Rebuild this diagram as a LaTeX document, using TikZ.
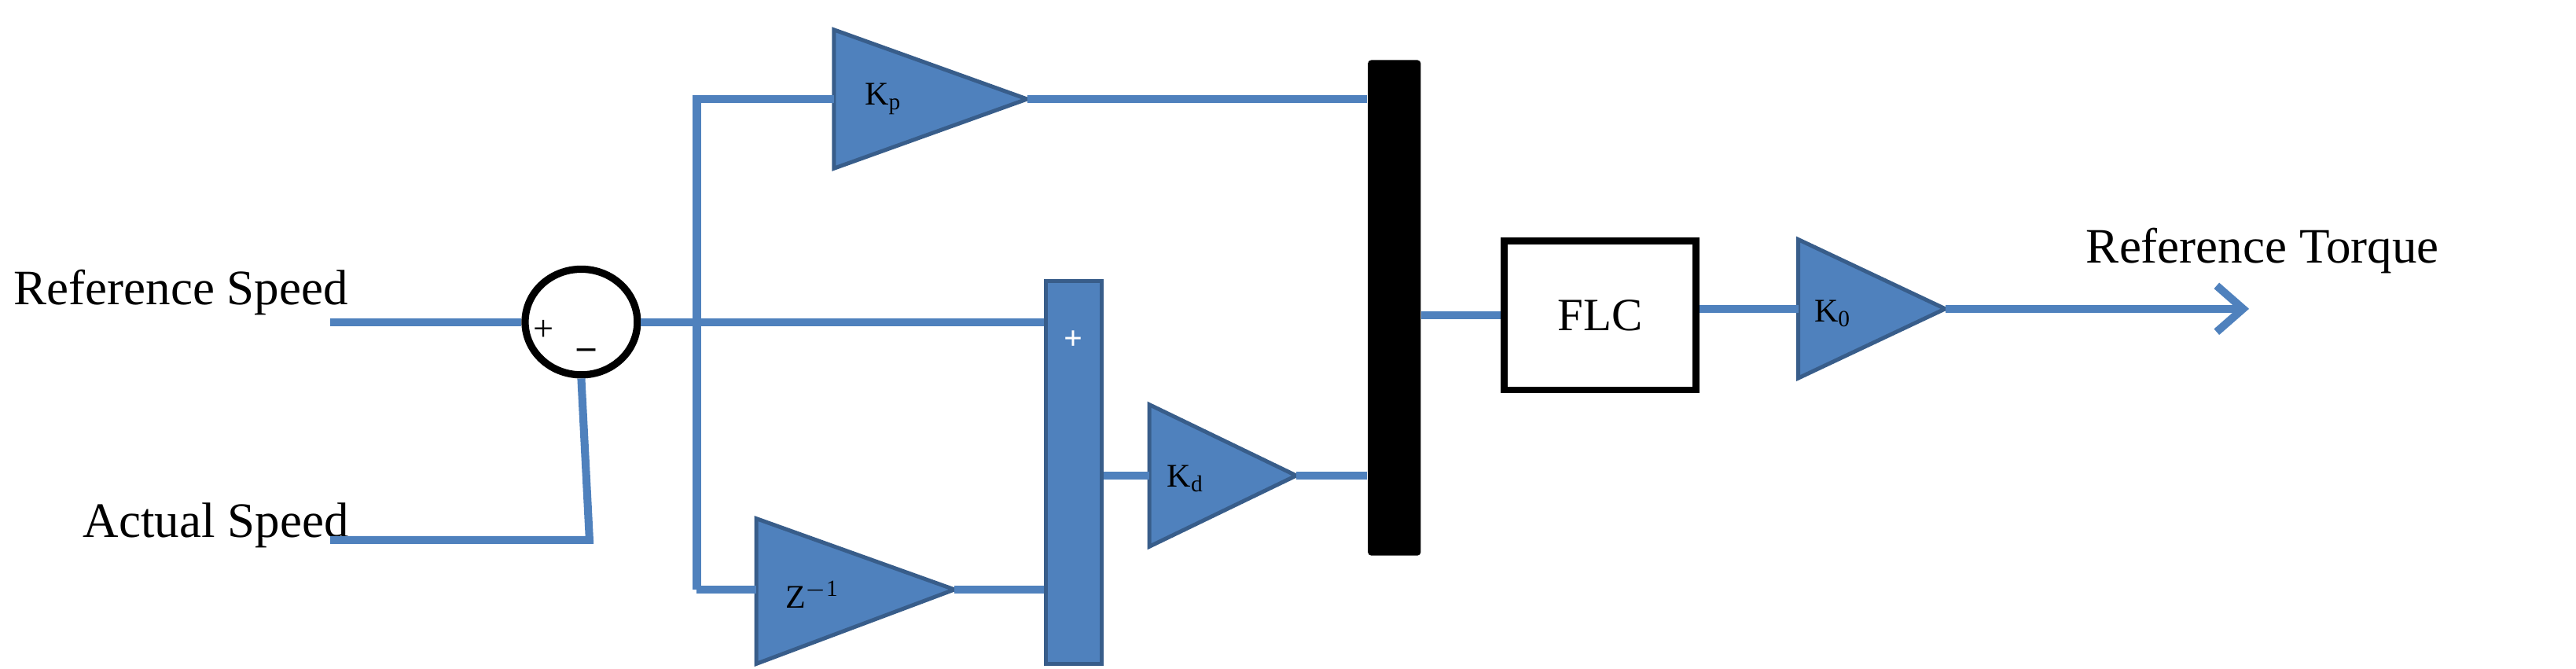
\documentclass[tikz,border=0pt]{standalone}
\usepackage{fontspec}
\setmainfont{Liberation Serif}
\usetikzlibrary{arrows.meta,shapes.geometric}
\definecolor{bl}{HTML}{4F81BD}
\definecolor{bd}{HTML}{385D8A}
\begin{document}
\begin{tikzpicture}[x=0.5pt,y=-0.5pt,
  wire/.style={bl,line width=2.4pt},
  tri/.style={fill=bl,draw=bd,line width=1.2pt,line join=miter},
  lbl/.style={font=\fontsize{15}{18}\selectfont,inner sep=0},
  glbl/.style={font=\fontsize{10}{12}\selectfont,inner sep=0}]
\useasboundingbox (0,0) rectangle (1560,405);
% labels
\node[lbl,anchor=west] (rs) at (8,177) {Reference Speed};
\node[lbl,anchor=west] (as) at (50,318) {Actual Speed};
\node[lbl,anchor=west] (rt) at (1263,152) {Reference Torque};
% inputs
\coordinate (rsin) at (200,195);
\coordinate (asin) at (200,327);
\coordinate (asc) at (357,327);
% sum circle
\node[draw=black,line width=2.2pt,ellipse,minimum width=34pt,minimum height=32pt,inner sep=0] (sum) at (352,195) {};
\node[font=\fontsize{11}{12}\selectfont,inner sep=0] (pl) at (329,200) {+};
\node[font=\fontsize{11}{12}\selectfont,inner sep=0] (mi) at (355,211) {\textbf{\_}};
\draw[wire] (rsin) -- (sum.west);
\draw[wire] (asin) -- (asc) -- (sum.south);
% branch
\coordinate (br) at (422,195);
\coordinate (brt) at (422,60);
\coordinate (brb) at (422,357);
% gain Kp
\draw[tri] (505,18) -- (622,60) -- (505,102) -- cycle;
\node[glbl] (kp) at (535,60) {$\mathrm{K_p}$};
\coordinate (kpin) at (505,60); \coordinate (kpout) at (622,60);
% gain z^-1
\draw[tri] (458,314) -- (578,357) -- (458,402) -- cycle;
\node[glbl] (zi) at (492,360) {$\mathrm{Z^{-1}}$};
\coordinate (ziin) at (458,357); \coordinate (ziout) at (578,357);
% sum bar
\node[fill=bl,draw=bd,line width=1.2pt,minimum width=17pt,minimum height=116pt,inner sep=0,anchor=north west] (sb) at (632,169) {};
\node[text=white,font=\bfseries\fontsize{10}{12}\selectfont] (sbp) at (650,206) {+};
% Kd
\draw[tri] (696,245) -- (785,288) -- (696,331) -- cycle;
\node[glbl] (kd) at (718,290) {$\mathrm{K_d}$};
\coordinate (kdin) at (696,288); \coordinate (kdout) at (785,288);
% black mux
\node[fill=black,rounded corners=1pt,minimum width=16pt,minimum height=150pt,inner sep=0,anchor=north west] (mux) at (828,36) {};
% FLC
\node[draw=black,line width=2pt,fill=white,minimum width=58pt,minimum height=45pt,inner sep=0,font=\fontsize{14}{16}\selectfont] (flc) at (969,191) {FLC};
% K0
\draw[tri] (1089,145) -- (1178,187) -- (1089,229) -- cycle;
\node[glbl] (ko) at (1110,190) {$\mathrm{K_0}$};
\coordinate (koin) at (1089,187); \coordinate (koout) at (1178,187);
\coordinate (end) at (1362,187);
% wires
\draw[wire] (sum.east) -- (br) -- (sb.west |- br);
\draw[wire] (brb) -- (brt) -- (kpin);
\draw[wire] (brb) -- (ziin);
\draw[wire] (kpout) -- (mux.west |- kpout);
\draw[wire] (ziout) -- (sb.west |- ziout);
\draw[wire] (sb.east |- kdin) -- (kdin);
\draw[wire] (kdout) -- (mux.west |- kdout);
\draw[wire] (mux.east |- flc) -- (flc.west);
\draw[wire] (flc.east |- koin) -- (koin);
\draw[wire,-{Straight Barb[length=8pt,width=14pt,line width=2.4pt]}] (koout) -- (end);
\end{tikzpicture}
\end{document}
